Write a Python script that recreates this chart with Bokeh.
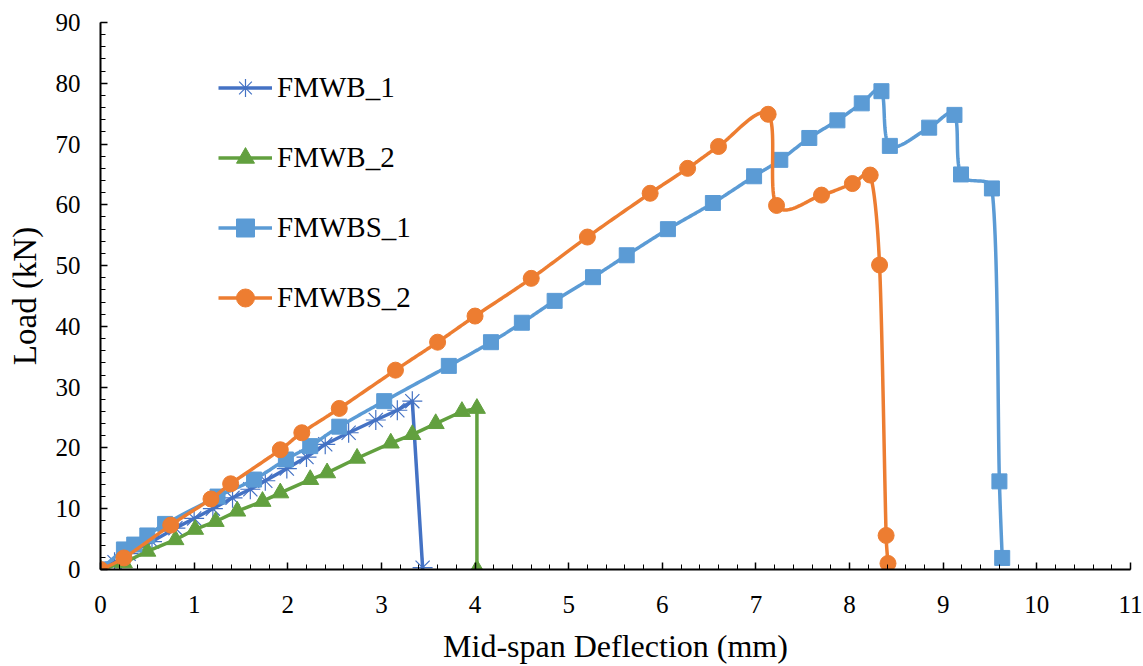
import math
from bokeh.plotting import figure
from bokeh.models import Range1d, SingleIntervalTicker, Legend, LegendItem
from bokeh.embed import file_html
from bokeh.resources import INLINE

# ---- data ----
fmwb1_x = [0, 0.15, 0.3, 0.55, 0.8, 1.0, 1.2, 1.41, 1.6, 1.76, 1.99, 2.2, 2.4, 2.65, 2.94, 3.17, 3.33, 3.44]
fmwb1_y = [0, 1.2, 2.6, 4.6, 6.8, 8.4, 10.0, 11.8, 13.2, 14.6, 16.6, 18.5, 20.6, 22.5, 24.6, 26.2, 27.7, 0.3]

fmwb2_x = [0, 0.25, 0.5, 0.8, 1.01, 1.23, 1.46, 1.73, 1.92, 2.24, 2.42, 2.74, 3.1, 3.33, 3.58, 3.86, 4.02, 4.02]
fmwb2_y = [0, 1.1, 3.0, 4.9, 6.6, 7.9, 9.6, 11.2, 12.6, 14.8, 15.9, 18.3, 20.8, 22.2, 24.0, 26.0, 26.5, 0]

fmwbs1_x = [0, 0.25, 0.36, 0.5, 0.69, 1.25, 1.64, 1.98, 2.24, 2.55, 3.03, 3.72, 4.17, 4.5, 4.85, 5.26,
            5.62, 6.06, 6.54, 6.98, 7.26, 7.57, 7.87, 8.13, 8.34, 8.43, 8.85, 9.12, 9.19, 9.52, 9.6, 9.63]
fmwbs1_y = [0, 3.3, 4.1, 5.6, 7.5, 12.0, 14.8, 18.1, 20.3, 23.5, 27.7, 33.5, 37.4, 40.6, 44.2, 48.1,
            51.7, 56.0, 60.3, 64.7, 67.4, 71.0, 73.9, 76.7, 78.7, 69.7, 72.7, 74.8, 65.0, 62.7, 14.5, 1.9]

fmwbs2_x = [0, 0.25, 0.75, 1.18, 1.39, 1.92, 2.15, 2.55, 3.15, 3.6, 4.0, 4.6, 5.2, 5.87, 6.27, 6.6,
            7.13, 7.22, 7.7, 8.03, 8.22, 8.32, 8.39, 8.41]
fmwbs2_y = [0, 1.9, 7.3, 11.6, 14.1, 19.7, 22.5, 26.5, 32.8, 37.4, 41.7, 47.9, 54.7, 61.9, 66.0, 69.6,
            74.9, 59.9, 61.6, 63.5, 64.9, 50.1, 5.6, 1.0]

x_max = 11
y_max = 90
x_title = "Mid-span Deflection (mm)"
y_title = "Load (kN)"

# ---- smoothing (Excel-like bezier, in screen-proportional space, with clamped handles) ----
SX, SY = 93.6, 6.09

def smooth(xs, ys, steps=24, clamp=0.4):
    pts = [(x * SX, y * SY) for x, y in zip(xs, ys)]
    n = len(pts)
    ox, oy = [], []

    def lim(v, seg):
        L = math.hypot(*v)
        m = clamp * seg
        if L > m and L > 0:
            return (v[0] * m / L, v[1] * m / L)
        return v

    for i in range(n - 1):
        p0 = pts[i - 1] if i > 0 else pts[i]
        p1 = pts[i]
        p2 = pts[i + 1]
        p3 = pts[i + 2] if i + 2 < n else pts[i + 1]
        seg = math.hypot(p2[0] - p1[0], p2[1] - p1[1])
        v1 = lim(((p2[0] - p0[0]) / 6, (p2[1] - p0[1]) / 6), seg)
        v2 = lim(((p3[0] - p1[0]) / 6, (p3[1] - p1[1]) / 6), seg)
        c1 = (p1[0] + v1[0], p1[1] + v1[1])
        c2 = (p2[0] - v2[0], p2[1] - v2[1])
        for k in range(steps):
            t = k / steps
            a = (1 - t) ** 3
            b = 3 * (1 - t) ** 2 * t
            c = 3 * (1 - t) * t ** 2
            d = t ** 3
            ox.append((a * p1[0] + b * c1[0] + c * c2[0] + d * p2[0]) / SX)
            oy.append((a * p1[1] + b * c1[1] + c * c2[1] + d * p2[1]) / SY)
    ox.append(pts[-1][0] / SX)
    oy.append(pts[-1][1] / SY)
    return ox, oy

FONT = "Liberation Serif"

p = figure(width=1143, height=666, output_backend="svg", toolbar_location=None,
           x_range=Range1d(0, x_max), y_range=Range1d(0, y_max),
           min_border_left=100, min_border_right=13, min_border_top=22, min_border_bottom=96)
p.outline_line_color = None
p.grid.grid_line_color = None
p.background_fill_color = "white"
p.border_fill_color = "white"

p.xaxis.ticker = SingleIntervalTicker(interval=1, num_minor_ticks=5)
p.yaxis.ticker = SingleIntervalTicker(interval=10, num_minor_ticks=5)
for ax in (p.xaxis[0], p.yaxis[0]):
    ax.axis_line_color = "black"
    ax.axis_line_width = 2
    ax.major_tick_line_color = "black"
    ax.minor_tick_line_color = "black"
    ax.major_tick_line_width = 1.5
    ax.minor_tick_line_width = 1
    ax.major_tick_in = 7
    ax.major_tick_out = 0
    ax.minor_tick_in = 5
    ax.minor_tick_out = 0
    ax.major_label_text_font = FONT
    ax.major_label_text_font_size = "25px"
    ax.major_label_text_color = "black"
    ax.axis_label_text_font = FONT
    ax.axis_label_text_font_style = "normal"
    ax.axis_label_text_color = "black"
p.xaxis.axis_label = x_title
p.yaxis.axis_label = y_title
p.xaxis.axis_label_text_font_size = "32px"
p.yaxis.axis_label_text_font_size = "33px"
p.xaxis.major_label_standoff = 26
p.yaxis.major_label_standoff = 20
p.xaxis.axis_label_standoff = 12
p.yaxis.axis_label_standoff = 10

c_b1 = "#4472C4"
c_b2 = "#62A03F"
c_s1 = "#5B9BD5"
c_s2 = "#ED7D31"

LW = 3.5
items = []

l1 = p.line(fmwb1_x, fmwb1_y, line_color=c_b1, line_width=LW)
m1 = p.scatter(fmwb1_x, fmwb1_y, marker="asterisk", size=20, line_color=c_b1, line_width=1.2)
items.append(LegendItem(label="FMWB_1", renderers=[l1, m1]))

l2 = p.line(fmwb2_x, fmwb2_y, line_color=c_b2, line_width=LW)
m2 = p.scatter(fmwb2_x, fmwb2_y, marker="triangle", size=17, fill_color=c_b2, line_color=c_b2)
items.append(LegendItem(label="FMWB_2", renderers=[l2, m2]))

sx1, sy1 = smooth(fmwbs1_x, fmwbs1_y)
l3 = p.line(sx1, sy1, line_color=c_s1, line_width=LW)
m3 = p.scatter(fmwbs1_x, fmwbs1_y, marker="square", size=15, fill_color=c_s1, line_color=c_s1)
items.append(LegendItem(label="FMWBS_1", renderers=[l3, m3]))

sx2, sy2 = smooth(fmwbs2_x, fmwbs2_y)
l4 = p.line(sx2, sy2, line_color=c_s2, line_width=LW)
m4 = p.scatter(fmwbs2_x, fmwbs2_y, marker="circle", size=16, fill_color=c_s2, line_color=c_s2)
items.append(LegendItem(label="FMWBS_2", renderers=[l4, m4]))

legend = Legend(items=items, location=(118, 249), glyph_width=54, glyph_height=45,
                label_height=20, spacing=25, label_standoff=5, padding=0, margin=0,
                border_line_color=None, background_fill_alpha=0,
                label_text_font=FONT, label_text_font_size="29px", label_text_color="black")
p.add_layout(legend)

open("out.html", "w").write(file_html(p, INLINE))
